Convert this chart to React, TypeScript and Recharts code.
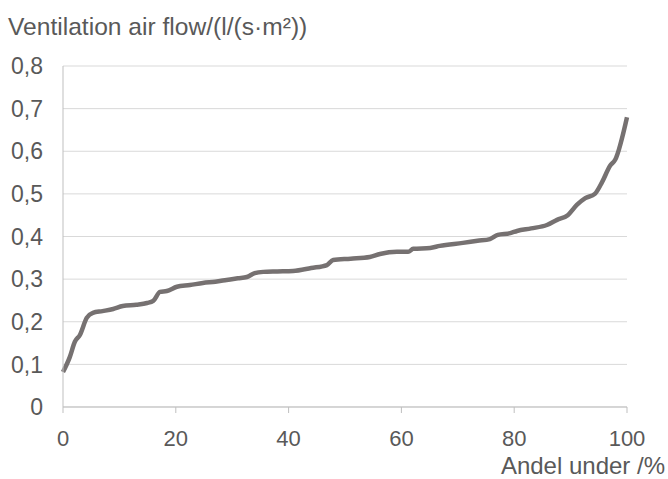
import { LineChart, Line, XAxis, YAxis, CartesianGrid } from 'recharts';

// share of buildings below value (%)
const share = [
  0, 1.2, 2.1, 3.0, 4.2, 5.3, 7, 8.9, 10.6, 13, 14.9, 16, 17.2, 18.4, 20.2, 22.5,
  24.8, 27, 29, 31, 32.6, 34, 35.5, 38, 40.8, 44, 46.8, 47.9, 51, 54.4, 56.2, 59.2,
  61.2, 62.1, 65.1, 66.8, 70.9, 73.5, 75.7, 77.1, 79.3, 80.5, 83, 85.8, 87.6, 89.5,
  91.1, 92.6, 94.3, 95.6, 97, 97.9, 100,
];

const flow = [
  0.082, 0.117, 0.153, 0.169, 0.209, 0.221, 0.225, 0.23, 0.237, 0.24, 0.244, 0.249,
  0.27, 0.272, 0.282, 0.286, 0.291, 0.294, 0.298, 0.302, 0.305, 0.314, 0.317, 0.318,
  0.319, 0.326, 0.333, 0.345, 0.348, 0.352, 0.359, 0.364, 0.364, 0.371, 0.373, 0.378,
  0.385, 0.39, 0.394, 0.404, 0.408, 0.413, 0.419, 0.427, 0.439, 0.45, 0.474, 0.49,
  0.5, 0.528, 0.566, 0.58, 0.68,
];

const yTicks = [0, 0.1, 0.2, 0.3, 0.4, 0.5, 0.6, 0.7, 0.8];
const xTicks = [0, 20, 40, 60, 80, 100];

const data = share.map((s, i) => ({ share: s, flow: flow[i] }));

const FONT = '"Liberation Sans", Arial, sans-serif';
const TEXT = '#595959';

export default function App() {
  return (
    <div style={{ position: 'relative', width: 668, height: 479, fontFamily: FONT }}>
      <style>{`body{margin:0}`}</style>
      <div
        style={{
          position: 'absolute',
          left: 8,
          top: 13,
          fontSize: 24.6,
          lineHeight: '28px',
          color: TEXT,
          whiteSpace: 'nowrap',
        }}
      >
        Ventilation air flow/(l/(s·m²))
      </div>
      <div
        style={{
          position: 'absolute',
          right: 3,
          top: 455,
          fontSize: 24,
          lineHeight: '22px',
          color: TEXT,
          whiteSpace: 'nowrap',
        }}
      >
        Andel under /%
      </div>
      <LineChart
        width={668}
        height={479}
        data={data}
        margin={{ top: 66, right: 41, bottom: 0, left: 0 }}
      >
        <CartesianGrid vertical={false} stroke="#d9d9d9" strokeWidth={1} />
        <XAxis
          dataKey="share"
          type="number"
          domain={[0, 100]}
          ticks={xTicks}
          height={72}
          stroke="#bfbfbf"
          tickSize={6}
          tickMargin={17}
          tick={{ fill: TEXT, fontSize: 22, fontFamily: FONT }}
        />
        <YAxis
          type="number"
          domain={[0, 0.8]}
          ticks={yTicks}
          width={63}
          stroke="#bfbfbf"
          tickLine={false}
          tickSize={0}
          tickMargin={20}
          tickFormatter={(v: number) => (v === 0 ? '0' : v.toFixed(1).replace('.', ','))}
          tick={{ fill: TEXT, fontSize: 23, fontFamily: FONT }}
        />
        <Line
          type="monotone"
          dataKey="flow"
          stroke="#767171"
          strokeWidth={4.5}
          dot={false}
          isAnimationActive={false}
        />
      </LineChart>
    </div>
  );
}
